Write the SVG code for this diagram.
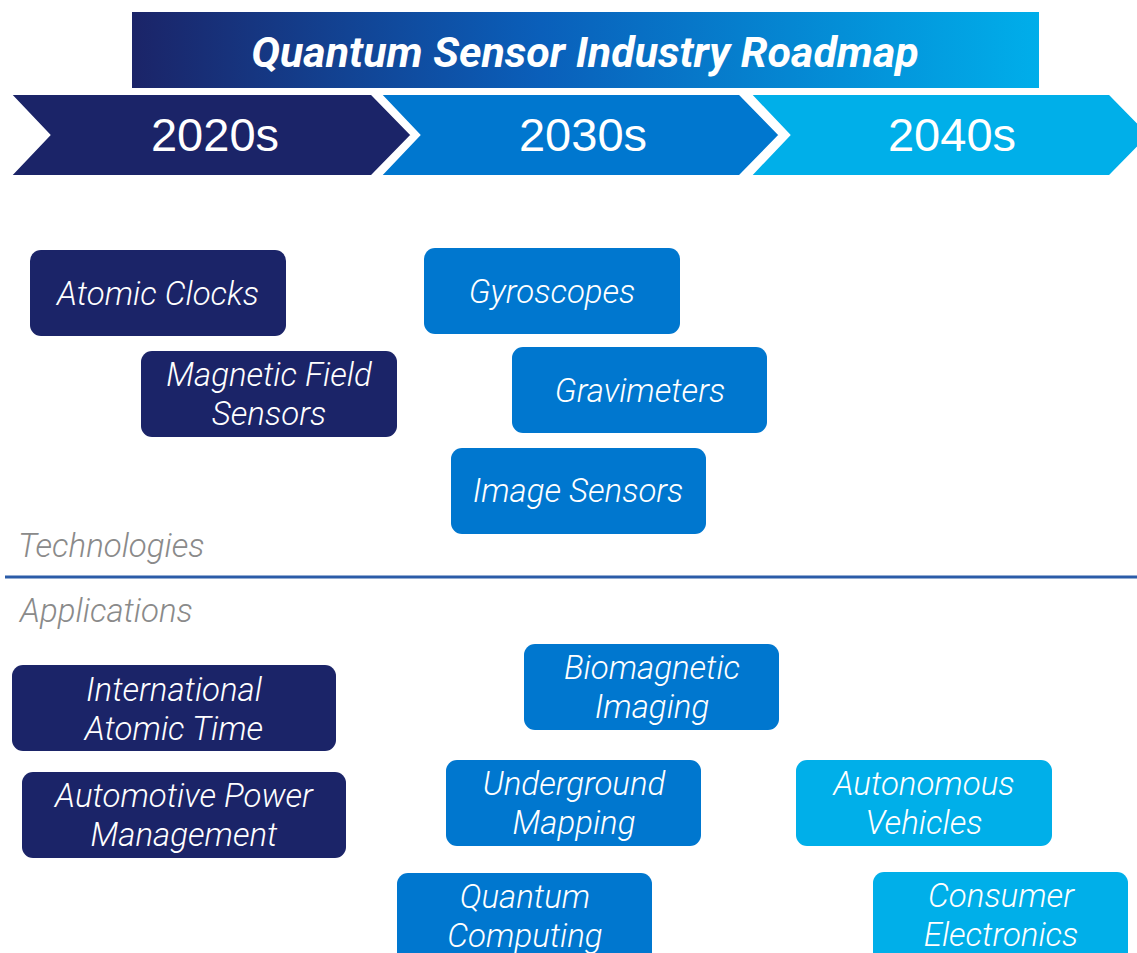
<svg xmlns="http://www.w3.org/2000/svg" width="1137" height="953" viewBox="0 0 1137 953">
<defs>
<linearGradient id="titleGrad" x1="0" y1="0" x2="1" y2="0">
<stop offset="0" stop-color="#1b2468"/>
<stop offset="0.45" stop-color="#0a5fba"/>
<stop offset="1" stop-color="#00aeea"/>
</linearGradient>
<style>
.navy{fill:#1b2468}
.mid{fill:#0077cf}
.light{fill:#00afe9}
.chev{stroke:#ffffff;stroke-width:4;stroke-linejoin:miter}
.era{font-family:"Liberation Sans",Arial,sans-serif;font-size:47px;fill:#ffffff;text-anchor:middle}
.title{font-family:Roboto,"Liberation Sans",sans-serif;font-weight:700;font-style:italic;font-size:43px;fill:#ffffff;text-anchor:middle}
.lbl{font-family:Roboto,"Liberation Sans",sans-serif;font-weight:300;font-style:italic;font-size:33px;fill:#ffffff;text-anchor:middle}
.sec{font-family:Roboto,"Liberation Sans",sans-serif;font-weight:300;font-style:italic;font-size:33px;fill:#8a8a8a}
</style>
</defs>
<rect width="1137" height="953" fill="#ffffff"/>
<g id="title">
<rect x="132" y="12" width="907" height="76" fill="url(#titleGrad)"/>
<text class="title" x="585" y="67">Quantum Sensor Industry Roadmap</text>
</g>
<g id="era-2040s">
<polygon class="light chev" points="748,93 1110,93 1151,135 1110,177 748,177 788,135"/>
<text class="era" x="952" y="151">2040s</text>
</g>
<g id="era-2030s">
<polygon class="mid chev" points="378,93 740,93 781,135 740,177 378,177 418,135"/>
<text class="era" x="583" y="151">2030s</text>
</g>
<g id="era-2020s">
<polygon class="navy chev" points="8,93 372,93 413,135 372,177 8,177 48,135"/>
<text class="era" x="215" y="151">2020s</text>
</g>
<g id="atomic-clocks">
<rect class="navy" x="30" y="250" width="256" height="86" rx="11"/>
<text class="lbl" x="158" y="305">Atomic Clocks</text>
</g>
<g id="magnetic-field-sensors">
<rect class="navy" x="141" y="351" width="256" height="86" rx="11"/>
<text class="lbl" x="269" y="386">Magnetic Field</text>
<text class="lbl" x="269" y="425">Sensors</text>
</g>
<g id="gyroscopes">
<rect class="mid" x="424" y="248" width="256" height="86" rx="11"/>
<text class="lbl" x="552" y="303">Gyroscopes</text>
</g>
<g id="gravimeters">
<rect class="mid" x="512" y="347" width="255" height="86" rx="11"/>
<text class="lbl" x="640" y="402">Gravimeters</text>
</g>
<g id="image-sensors">
<rect class="mid" x="451" y="448" width="255" height="86" rx="11"/>
<text class="lbl" x="578" y="502">Image Sensors</text>
</g>
<g id="section-labels">
<text class="sec" x="18" y="557">Technologies</text>
<text class="sec" x="20" y="622">Applications</text>
</g>
<g id="connectors">
<line x1="5" y1="577" x2="1137" y2="577" stroke="#2b5ca8" stroke-width="3"/>
</g>
<g id="international-atomic-time">
<rect class="navy" x="12" y="665" width="324" height="86" rx="11"/>
<text class="lbl" x="174" y="701">International</text>
<text class="lbl" x="174" y="740">Atomic Time</text>
</g>
<g id="automotive-power-management">
<rect class="navy" x="22" y="772" width="324" height="86" rx="11"/>
<text class="lbl" x="184" y="807">Automotive Power</text>
<text class="lbl" x="184" y="846">Management</text>
</g>
<g id="biomagnetic-imaging">
<rect class="mid" x="524" y="644" width="255" height="86" rx="11"/>
<text class="lbl" x="652" y="679">Biomagnetic</text>
<text class="lbl" x="652" y="718">Imaging</text>
</g>
<g id="underground-mapping">
<rect class="mid" x="446" y="760" width="255" height="86" rx="11"/>
<text class="lbl" x="574" y="795">Underground</text>
<text class="lbl" x="574" y="834">Mapping</text>
</g>
<g id="autonomous-vehicles">
<rect class="light" x="796" y="760" width="256" height="86" rx="11"/>
<text class="lbl" x="924" y="795">Autonomous</text>
<text class="lbl" x="924" y="834">Vehicles</text>
</g>
<g id="quantum-computing">
<rect class="mid" x="397" y="873" width="255" height="100" rx="11"/>
<text class="lbl" x="525" y="908">Quantum</text>
<text class="lbl" x="525" y="947">Computing</text>
</g>
<g id="consumer-electronics">
<rect class="light" x="873" y="872" width="255" height="100" rx="11"/>
<text class="lbl" x="1001" y="907">Consumer</text>
<text class="lbl" x="1001" y="946">Electronics</text>
</g>
</svg>
